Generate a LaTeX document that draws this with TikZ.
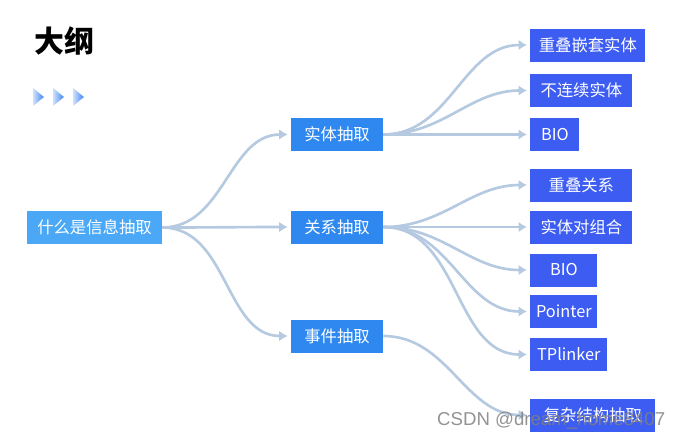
\documentclass[tikz,border=0pt]{standalone}
\usepackage{fontspec}
\setmainfont{Noto Sans CJK SC}
\newfontfamily\marcafont{Liberation Sans}
\usetikzlibrary{arrows.meta}

\begin{document}
\begin{tikzpicture}[x=0.02cm,y=-0.02cm,
        caja/.style={fill=#1,text=white,minimum height=0.66cm,inner sep=0pt,font=\fontsize{9.3}{11}\selectfont},
        rama/.style={draw=linea,line width=1.5pt,-{Latex[length=1.7mm,width=2.1mm]},shorten >=1.7pt}]
        %colores
        \definecolor{raizc}{HTML}{4AA8F6}
        \definecolor{nivel1}{HTML}{2E88F0}
        \definecolor{nivel2}{HTML}{3D5CF2}
        \definecolor{linea}{HTML}{B5C9E0}
        \definecolor{flecha}{HTML}{3F86F2}
        \useasboundingbox (0,0) rectangle (685,440);

        % titulo y flechitas
        \node[anchor=west,font=\fontsize{17}{20}\selectfont\bfseries] (titulo) at (28,41) {大纲};
        \foreach \x in {33,53,73}
            \shade[left color=flecha!25,right color=flecha] (\x,88) -- (\x+11,97) -- (\x,106) -- cycle;

        % raiz y primer nivel
        \node[caja=raizc,minimum width=2.7cm] (info) at (94.5,227.5) {什么是信息抽取};
        \node[caja=nivel1,minimum width=1.84cm] (ent) at (337,134.5) {实体抽取};
        \node[caja=nivel1,minimum width=1.84cm] (rel) at (337,227) {关系抽取};
        \node[caja=nivel1,minimum width=1.84cm] (evt) at (337,336) {事件抽取};

        % segundo nivel
        \foreach \nombre/\y/\w/\texto in {anid/45/2.3/重叠嵌套实体,disc/90.5/2.04/不连续实体,bioa/134.5/0.98/BIO,
                solap/185/2.04/重叠关系,pares/227/2.04/实体对组合,biob/270/1.34/BIO,
                punt/311.5/1.34/Pointer,tpl/354.5/1.54/TPlinker,compl/415/2.5/复杂结构抽取}
            \node[caja=nivel2,anchor=west,minimum width=\w cm] (\nombre) at (530,\y) {\texto};

        % ramas
        \foreach \hijo in {ent,rel,evt}
            \draw[rama] (info.east) to[out=0,in=180] (\hijo.west);
        \foreach \hijo in {anid,disc,bioa}
            \draw[rama] (ent.east) to[out=0,in=180] (\hijo.west);
        \foreach \hijo in {solap,pares,biob,punt,tpl}
            \draw[rama] (rel.east) to[out=0,in=180] (\hijo.west);
        \draw[rama] (evt.east) to[out=0,in=180] (compl.west);

        % marca de agua
        \node[anchor=west,text=gray,opacity=0.85,font=\marcafont\fontsize{10.6}{12}\selectfont] (marca) at (431,421) {CSDN @dream\_home8407};
    \end{tikzpicture}
\end{document}
